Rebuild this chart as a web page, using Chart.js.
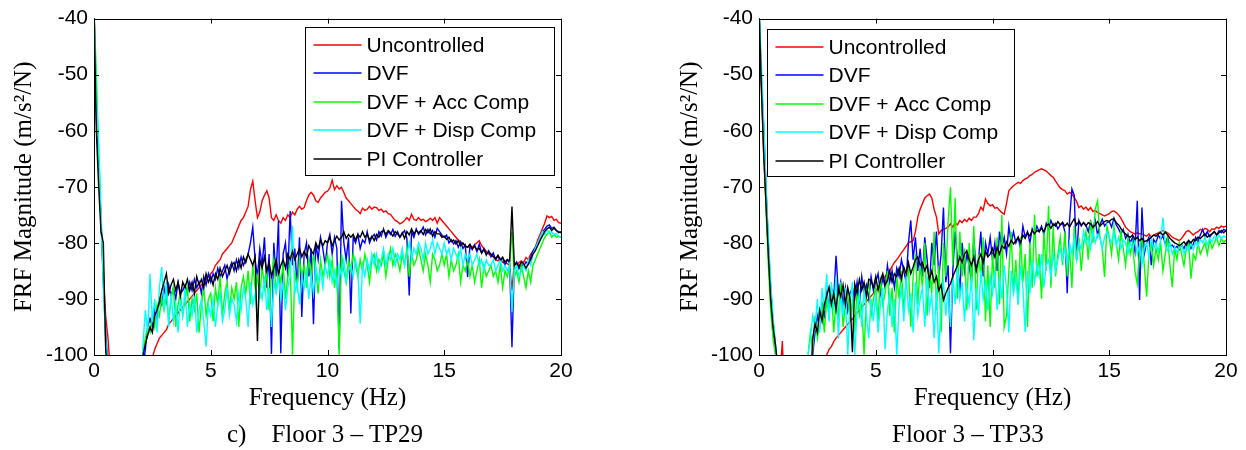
<!DOCTYPE html>
<html>
<head>
<meta charset="utf-8">
<script src="https://cdn.jsdelivr.net/npm/chart.js@4.4.1/dist/chart.umd.min.js"></script>
<style>
  body { margin: 0; background: #fff; }
  #wrap { position: relative; width: 1246px; height: 450px; overflow: hidden; }
  canvas { position: absolute; top: 0; }
  #cLeft { left: 0; }
  #cRight { left: 623px; }
  .caption { position: absolute; top: 421px; font: 25px/25px "Liberation Serif", "Times New Roman", serif; color: #000; white-space: pre; }
</style>
</head>
<body>
<div id="wrap">
  <canvas id="cLeft" width="623" height="450"></canvas>
  <canvas id="cRight" width="623" height="450"></canvas>
  <div class="caption" style="left:227px">c)    Floor 3 – TP29</div>
  <div class="caption" style="left:892px">Floor 3 – TP33</div>
</div>
<script>
// Frequency axis, 0 to 20 Hz every 0.1 Hz (values below -100 dB fall outside the axis)
const freq = Array.from({ length: 201 }, (_, i) => i / 10);

const seriesLabels = ['Uncontrolled', 'DVF', 'DVF + Acc Comp', 'DVF + Disp Comp', 'PI Controller'];
const seriesColors = ['#ff0000', '#0000ff', '#00ff00', '#00ffff', '#000000'];
const drawOrder = [5, 4, 3, 2, 1];   // black ends up on top
const xTicks = [0, 5, 10, 15, 20];
const yTicks = [-100, -90, -80, -70, -60, -50, -40];

// ---- Floor 3 - TP29 ----
const tp29Unc = [
  -38, -58, -66, -76, -86, -93, -97, -103, -110, -110,
  -110, -110, -110, -110, -110, -110, -110, -110, -110, -110,
  -110, -110, -110, -110, -106, -100.5, -99, -98, -97, -96.5,
  -96, -95.5, -94.5, -94, -93.5, -93, -92.5, -92, -91.5, -91,
  -90.5, -90, -89.5, -89, -88.5, -88, -87.5, -87, -86.5, -86,
  -85.5, -85, -84, -83.5, -83, -82, -81.5, -81, -80.5, -80,
  -79, -78, -77, -76, -75.5, -74.5, -73.5, -70.5, -69, -72.5,
  -75.5, -74.5, -72.5, -71.5, -70.7, -72, -75.5, -76, -75, -76,
  -76.5, -75.5, -76, -75, -75.5, -74.5, -75, -74, -73.5, -74,
  -73.7, -72.5, -71.5, -71, -71.5, -72.5, -72.8, -72, -71.5, -71,
  -70.8, -70.2, -68.8, -70.5, -69.8, -70.4, -70.1, -71, -72, -72.5,
  -73, -73.5, -74, -74.3, -74.8, -73.8, -74.2, -74, -73.5, -74,
  -73.6, -73.7, -74.2, -74, -74.5, -74.3, -74.8, -74.9, -75.5, -76,
  -76.2, -76.6, -76.4, -76, -75.5, -76, -74.9, -75.8, -76, -75.5,
  -76, -75.8, -76.2, -76, -75.6, -76, -75.5, -76.5, -75.5, -76,
  -76.5, -77, -77.5, -78, -78.5, -79, -79.5, -79.8, -80.2, -80.5,
  -80.8, -80.5, -80.8, -80.3, -80, -79.6, -80.5, -81, -81.5, -82,
  -82.3, -82.5, -83, -83.2, -82.8, -83.5, -83.6, -83.7, -84, -88.5,
  -83.5, -84, -83.5, -83.2, -83.5, -82.6, -83, -82, -81.5, -80.8,
  -79.5, -78.5, -77.5, -76.5, -75.2, -75.5, -75.3, -76, -75.8, -76.4,
  -76.5
];
const tp29Dvf = [
  -38, -56, -66, -76, -87, -96, -102, -110, -110, -110,
  -110, -110, -110, -110, -110, -110, -110, -110, -110, -110,
  -110, -102, -99, -95, -93.5, -95, -92, -94, -90, -91,
  -88, -90.5, -87.5, -89.5, -88, -90, -87, -89, -88.5, -87.5,
  -89, -87, -88.5, -86.5, -88, -87, -89, -86, -87.5, -85.5,
  -87, -85.5, -86.5, -84.5, -86, -85, -84, -86.5, -84.5, -83.5,
  -85, -83, -84.5, -82.5, -84, -83, -82, -80, -77.2, -83,
  -86, -81, -84, -79, -88, -82, -99.8, -80, -86, -76,
  -99.7, -82, -80, -86, -74.3, -84, -81, -88, -79, -93.2,
  -82, -80, -86, -81, -94.5, -80, -83, -79, -81, -84,
  -80, -78.5, -82, -79, -81, -99, -72.5, -80, -83, -79,
  -92.6, -79, -80, -78.5, -81, -79.5, -80, -78, -80, -79,
  -78.5, -79.5, -78, -78.8, -77.5, -79, -78, -78.5, -77.6, -78.8,
  -78, -79, -78.4, -77.8, -79.2, -89.4, -78, -79, -77.5, -78.5,
  -78, -77.2, -78.6, -77.6, -78.4, -77.8, -79, -77.4, -78, -78.6,
  -79, -78.6, -80, -79.4, -80.2, -79.6, -80.8, -79.8, -81, -80.4,
  -86.1, -80.6, -81.2, -80.4, -81.6, -80.2, -81.8, -81, -82.2, -81.4,
  -82.5, -81.8, -83, -82.4, -83.2, -82.6, -84, -83, -83.6, -98.6,
  -84, -83.4, -84.6, -83.8, -84.2, -83.4, -83.8, -82.6, -81.4, -80.8,
  -80, -79, -78, -77.6, -77, -76.8, -77.4, -77.2, -77.8, -78,
  -78.2
];
const tp29Acc = [
  -38, -50, -64, -76, -86, -98, -104, -110, -110, -110,
  -110, -110, -110, -110, -110, -110, -110, -110, -110, -110,
  -110, -99, -97, -95, -96, -93, -95, -91, -93, -90,
  -92, -89, -94, -90, -88, -95, -91, -89, -93, -90,
  -88, -94, -90, -92, -89, -96, -91, -88, -93, -90,
  -89, -94, -88, -91, -86, -93, -89, -87, -92, -88,
  -90, -87, -95, -88, -86, -89, -85, -91, -84, -88,
  -86, -90, -84, -88, -85, -92, -86, -83, -89, -85,
  -87, -84, -90, -86, -83, -100, -85, -88, -83, -86,
  -84, -88, -83, -86, -82, -85, -89, -83, -86, -84,
  -82, -86, -83, -88, -84, -100, -82, -85, -87, -83,
  -85, -82, -84, -86, -83, -85, -82, -84, -87, -83,
  -82, -85, -83, -84, -82, -86, -83, -81, -84, -82,
  -83, -85, -82, -84, -81, -86, -82, -84, -83, -81,
  -83, -85, -82, -84, -87, -82, -83, -85, -84, -82,
  -84, -82, -86, -83, -85, -84, -82, -87, -84, -85,
  -83, -86, -84, -87, -85, -83, -88, -84, -86, -85,
  -84, -86, -85, -87, -84, -88, -85, -86, -84, -78,
  -86, -85, -87, -84, -86, -88, -85, -87, -84, -83,
  -82, -81, -80, -79, -78.5, -78, -79, -78.5, -79, -78.8,
  -79
];
const tp29Disp = [
  -38, -54, -62, -74, -88, -97, -103, -110, -110, -110,
  -110, -110, -110, -110, -110, -110, -110, -110, -110, -110,
  -110, -98, -92, -96, -85.5, -94, -90, -96, -88, -84.3,
  -92, -87, -95, -89, -94, -91, -96, -90, -93, -88,
  -95, -91, -93, -89, -96, -92, -90, -94, -98.5, -91,
  -93, -90, -95, -91, -89, -94, -92, -88, -93, -90,
  -91, -94, -89, -92, -88, -90, -95, -87, -91, -89,
  -94, -88, -90, -86, -92, -88, -95, -87, -89, -86,
  -90, -87, -92, -88, -86, -77, -89, -87, -91, -86,
  -88, -85, -90, -86, -89, -84, -87, -85, -88, -84,
  -86, -83, -87, -85, -88, -84, -86, -83, -87, -85,
  -84, -86, -83, -85, -94.4, -84, -86, -83, -85, -82,
  -84, -82, -85, -83, -81, -84, -82, -83, -81, -84,
  -82, -83, -81, -84, -82, -80, -83, -81, -82, -80,
  -81, -83, -80, -82, -81, -79.5, -82, -80, -81, -82,
  -80, -82, -81, -83, -81, -82, -83, -81, -84, -82,
  -83, -82, -84, -83, -82, -84, -83, -85, -83, -84,
  -84, -83, -85, -84, -83, -85, -84, -85, -84, -92.3,
  -85, -84, -86, -85, -84, -85, -83, -84, -82, -81,
  -80, -79, -78, -78.5, -77.6, -78.2, -78, -78.6, -78.3, -78.8,
  -79
];
const tp29Pi = [
  -38, -60, -70, -78, -80, -99, -104, -110, -110, -110,
  -110, -110, -110, -110, -110, -110, -110, -110, -110, -110,
  -110, -100, -98, -96.5, -95, -96, -93, -92, -90.5, -88.5,
  -87, -85.5, -89, -87.5, -86.5, -88.5, -87, -89.5, -87, -88,
  -86.5, -88.5, -87, -89, -86, -87.5, -86.5, -88, -85.5, -87,
  -86, -87.5, -85.5, -86.5, -84.5, -86, -85, -84, -85.5, -84,
  -83.5, -85, -83, -84.5, -82.5, -83.5, -82, -83, -84, -82.5,
  -97.5, -83, -84.5, -82.5, -85, -83.5, -86, -84.5, -83, -85.5,
  -84, -83, -84.5, -82, -83, -81.5, -83, -82, -81, -82.5,
  -81.5, -82.5, -80.5, -81.4, -82, -80, -81, -79.5, -80.5, -79.6,
  -80, -79, -80.5, -79.6, -78.8, -79.5, -79, -78, -79.2, -78.5,
  -79, -78.5, -79.5, -78.5, -79, -78, -79, -78.5, -79.5, -78.8,
  -79.6, -78.5, -79, -78, -77.8, -78.5, -77.8, -78.2, -78.8, -78,
  -78.4, -79, -78.2, -79.2, -78, -78.6, -77.5, -78.4, -77.8, -78.2,
  -77.8, -78.5, -77.6, -78.2, -77.5, -78.8, -78, -78.4, -78.4, -79,
  -78.8, -79.4, -79, -79.8, -79.5, -80.2, -79.6, -80.5, -80, -80.6,
  -80.8, -80.2, -81, -80.6, -81.2, -81, -81.8, -81.2, -82, -81.6,
  -82, -82.4, -82.8, -82.2, -83, -82.6, -83.4, -83, -83.2, -73.5,
  -84, -83.6, -84.2, -83.4, -83.7, -84.5, -83.8, -83, -82, -81.4,
  -80.5, -79.6, -78.8, -78, -77.5, -77.2, -77.8, -77.4, -77.8, -78.2,
  -78
];

// ---- Floor 3 - TP33 ----
const tp33Unc = [
  -38, -52, -64, -73, -82, -90, -95, -99, -104, -104,
  -97.5, -110, -110, -110, -110, -110, -110, -110, -110, -110,
  -110, -110, -110, -110, -110, -110, -110, -106, -102, -100,
  -99, -98.5, -97.6, -97, -96.5, -96, -95.5, -95, -94.5, -94,
  -93.6, -93, -92.5, -92, -91.4, -91, -90.4, -90, -89.5, -89,
  -88.5, -88, -87.4, -86.8, -86, -85.4, -85, -84.2, -83.5, -83,
  -82.4, -81.8, -81.2, -80.6, -80, -79.8, -79.6, -78, -75.4, -74,
  -73, -72, -71.6, -71.3, -72, -74, -75.4, -78.4, -77.8, -77.6,
  -77.4, -77.2, -76.6, -77.2, -76.4, -76.8, -76, -76.4, -75.8, -76.2,
  -75.6, -76, -75.4, -75.4, -74.8, -73.6, -74.2, -72.2, -73, -73.4,
  -73.2, -73.8, -73.7, -74.2, -74.6, -74.9, -73, -70.7, -70.2, -69.8,
  -69.5, -69.2, -69.4, -68.9, -68.6, -68.4, -68, -67.8, -67.4, -67.2,
  -67, -66.8, -67, -67.2, -67.6, -68, -68.3, -69, -69.6, -70.2,
  -70.5, -70.7, -71.3, -71, -71.3, -71.9, -72.6, -73.7, -73.4, -74,
  -73.6, -74.2, -73.7, -74.4, -74.2, -74.6, -74.8, -75, -75.2, -75,
  -74.8, -74.4, -74.3, -74.6, -75, -75.6, -76.4, -77.2, -77.6, -78,
  -78.2, -78.4, -78.2, -78.4, -78.4, -78.6, -78.8, -78.4, -79, -78.6,
  -78.4, -78.2, -78, -77.8, -78, -78.2, -78.6, -79, -79.2, -79.4,
  -79.6, -79.2, -78.6, -78, -77.8, -78.2, -78.6, -78.2, -78, -77.6,
  -77.8, -77.4, -77.6, -78, -77.5, -77.6, -77.2, -77.4, -77, -77.2,
  -77
];
const tp33Dvf = [
  -38, -51, -59, -70, -80, -88, -94, -98, -104, -110,
  -110, -110, -110, -110, -110, -110, -110, -110, -110, -110,
  -110, -110, -104, -100, -96, -93, -95, -91, -93, -89,
  -91, -88, -90, -82.3, -89, -87, -91, -88, -92, -89,
  -88, -90, -87, -91, -86, -89, -87.5, -90, -86, -88.5,
  -87, -85.5, -89, -86, -88, -84, -87, -85, -88, -84.5,
  -86, -83, -85, -87, -80, -76, -83, -79, -85, -81,
  -86, -79, -83, -88, -80, -84, -78, -86, -82, -73.7,
  -87, -84, -99.7, -85, -78, -83, -89, -80, -85, -82,
  -84, -87, -79, -85, -83, -78, -86, -80, -82, -79,
  -83, -80, -85, -78, -81, -79, -82, -77, -80, -78,
  -80, -79, -81, -77, -79, -78, -80, -77.5, -78.5, -77,
  -78, -77, -78.5, -76.5, -77.5, -76, -77, -76.5, -77.5, -76.8,
  -76.5, -78, -89, -76, -70.4, -71.5, -83, -76, -77, -76.4,
  -76.8, -78, -76.2, -77.4, -76, -78.6, -76.8, -75.8, -77, -76.4,
  -76.2, -77.2, -75.6, -76.8, -77.5, -78.4, -77.6, -79.2, -78.4, -80,
  -79, -81.5, -72.5, -90.2, -73.7, -82, -80, -79, -84, -79.4,
  -80, -78.6, -79.4, -78.8, -80.2, -79, -80.6, -80.4, -81, -80.6,
  -81.2, -80.4, -81, -80, -79.6, -81, -80.2, -79, -79.8, -78.6,
  -77.6, -78.8, -78, -79, -78.4, -78, -78.6, -77.8, -78.2, -77.6,
  -77.8
];
const tp33Acc = [
  -38, -50, -62, -74, -84, -92, -97, -100, -106, -110,
  -110, -110, -110, -110, -110, -110, -110, -110, -110, -110,
  -110, -100, -96, -99, -93, -97, -94, -91, -96, -90,
  -93, -88, -96, -90, -93, -87, -95, -91, -89, -94,
  -90, -96, -88, -93, -91, -100, -89, -87, -93, -90,
  -88, -94, -86, -91, -89, -85, -93, -88, -96, -86,
  -90, -85, -92, -87, -84, -95, -86, -82, -91, -84,
  -88, -80, -93, -85, -89, -78, -92, -84, -96, -80,
  -86, -76, -70.1, -84, -72, -90, -78, -86, -81, -92,
  -80, -88, -77, -92, -82, -86, -79, -94, -84, -95,
  -82, -88, -79, -91, -75, -95, -93, -85, -78, -89,
  -83, -91, -79, -87, -82, -95, -80, -88, -75, -86,
  -82, -90, -78, -85, -73.4, -88, -77, -86, -82, -79,
  -84, -78, -86, -81, -88, -77, -83, -79, -85, -80,
  -78, -83, -76, -80, -74, -72.5, -79, -81, -86.1, -77,
  -79, -82, -77, -80, -83, -78, -81, -84, -79, -82,
  -80, -85, -87.3, -81, -79, -84, -89.6, -82, -80, -84,
  -81, -83, -80, -85, -82, -79, -84, -87.9, -81, -83,
  -80, -82, -84, -81, -80, -86.4, -82, -83, -80, -82,
  -81, -80, -82, -79.5, -81, -80, -79, -80.5, -79.2, -80,
  -79.5
];
const tp33Disp = [
  -38, -48, -58, -70, -79, -87, -93, -98, -104, -110,
  -110, -110, -110, -110, -110, -110, -110, -110, -110, -110,
  -110, -100, -97, -93, -95, -90, -96, -88, -92, -85.5,
  -94, -87, -92, -86, -97, -89, -93, -88, -100, -91,
  -87, -100, -92, -89, -95, -88, -93, -97, -90, -94,
  -89, -96, -91, -88, -99, -92, -89, -95, -90, -100,
  -91, -88, -94, -86, -92, -89, -96, -87, -93, -90,
  -88, -95, -86, -92, -89, -97, -88, -99.7, -90, -87,
  -93, -88, -95, -86, -91, -84, -90, -87, -94, -88,
  -91, -86, -97.4, -88, -93, -85, -90, -87, -92, -86,
  -89, -85, -92, -86, -90, -84, -88, -96, -85, -89,
  -86, -91, -84, -88, -95.9, -85, -89, -83, -87, -84,
  -86, -82, -88, -84, -83, -86, -82, -85, -83, -81,
  -83, -81, -84, -80, -82, -79, -83, -80, -81, -78,
  -80, -79, -81, -78, -80, -78.5, -79, -81, -79, -78,
  -79, -80, -78, -80.5, -79, -81, -79.5, -80, -82, -80,
  -81, -79.6, -82, -80.4, -84, -81, -80, -82.5, -79, -81,
  -80, -81.6, -79.4, -75.5, -80.6, -81.4, -80, -82, -80.8, -81.6,
  -81, -80.2, -82, -80.6, -81.4, -80, -81.2, -79.8, -80.6, -79.4,
  -80, -79, -80.4, -79.2, -79.8, -78.8, -79.4, -78.6, -79.2, -78.8,
  -79
];
const tp33Pi = [
  -38, -52, -64, -73, -82, -90, -95, -98, -102, -110,
  -110, -110, -110, -110, -110, -110, -110, -110, -110, -110,
  -110, -110, -106, -97, -94.4, -96, -92, -94, -91, -89.5,
  -87.9, -91, -89, -92, -88, -89.6, -87.5, -91, -88, -90,
  -99.5, -87.3, -89, -86.5, -88.5, -87, -89.5, -86.5, -86.7, -88,
  -86, -88.5, -86.7, -85.5, -87.5, -86.7, -85, -87, -85.5, -86,
  -84.5, -86.5, -84.3, -85.5, -83.5, -85.5, -84.3, -83, -82.5, -84,
  -83.5, -85, -84, -86.5, -85, -87, -86, -88.5, -87.5, -90.2,
  -89, -88, -87.3, -86, -85, -84, -82.5, -83.5, -82, -81.4,
  -83, -84, -82.5, -84.9, -83, -82, -83.5, -81.5, -82.5, -82,
  -81, -82.5, -80.8, -82, -80.5, -81, -79.8, -80.6, -79.5, -80.2,
  -79.6, -79, -80, -78.6, -79.2, -78.2, -78.8, -77.8, -78.4, -77.8,
  -78, -77.4, -78, -77, -76.6, -77.4, -76.6, -77, -76.2, -76.8,
  -76.3, -77, -76.5, -77.2, -76.4, -75.7, -76.8, -76.2, -76.8, -76.4,
  -77, -76.4, -76.6, -77.2, -76.8, -76.2, -77, -76.6, -76.2, -76,
  -76.2, -75.8, -75.7, -76.4, -76.8, -77.4, -78, -78.4, -78.8, -79,
  -78.6, -79.4, -79, -79.6, -79.2, -79.8, -79.6, -79.4, -79, -78.6,
  -78.8, -78.4, -78.2, -78.6, -78.1, -78.6, -79.2, -79.6, -80, -80.2,
  -80.5, -80.2, -79.8, -80.4, -79.6, -80, -79.4, -79.6, -79, -79.2,
  -78.8, -78.4, -79, -78.6, -78.4, -78, -78.6, -78.2, -77.8, -78.2,
  -77.8
];

const sansFont = '"Liberation Sans", Arial, sans-serif';
const serifFont = '"Liberation Serif", "Times New Roman", serif';

// Boxed axes with inward ticks on all four sides plus a boxed legend, MATLAB style
const matlabFrame = {
    id: 'matlabFrame',
    afterDatasetsDraw(chart, args, opts) {
        const { ctx, chartArea: a, scales: { x, y } } = chart;
        ctx.save();
        ctx.strokeStyle = '#000';
        ctx.lineWidth = 1;
        ctx.beginPath();
        x.ticks.forEach(t => {
            const px = Math.round(x.getPixelForValue(t.value)) + 0.5;
            ctx.moveTo(px, a.bottom); ctx.lineTo(px, a.bottom - opts.tick);
            ctx.moveTo(px, a.top); ctx.lineTo(px, a.top + opts.tick);
        });
        y.ticks.forEach(t => {
            const py = Math.round(y.getPixelForValue(t.value)) + 0.5;
            ctx.moveTo(a.left, py); ctx.lineTo(a.left + opts.tick, py);
            ctx.moveTo(a.right, py); ctx.lineTo(a.right - opts.tick, py);
        });
        ctx.stroke();
        ctx.strokeRect(Math.round(a.left) + 0.5, Math.round(a.top) + 0.5,
            Math.round(a.right - a.left), Math.round(a.bottom - a.top));

        // legend
        const lg = opts.legend;
        const lx = Math.round(a.left + lg.x) + 0.5;
        const ly = Math.round(a.top + lg.y) + 0.5;
        ctx.fillStyle = '#fff';
        ctx.fillRect(lx, ly, lg.w, lg.h);
        ctx.strokeStyle = '#000';
        ctx.strokeRect(lx, ly, lg.w, lg.h);
        ctx.font = '21px ' + sansFont;
        ctx.textBaseline = 'middle';
        ctx.textAlign = 'left';
        chart.data.datasets.forEach((ds, i) => {
            const ry = Math.round(ly + 17 + i * 28.5);
            ctx.strokeStyle = ds.borderColor;
            ctx.lineWidth = 1.5;
            ctx.beginPath();
            ctx.moveTo(lx + 8, ry);
            ctx.lineTo(lx + 56, ry);
            ctx.stroke();
            ctx.fillStyle = '#000';
            ctx.fillText(ds.label, lx + 61, ry + 1);
        });
        ctx.restore();
    }
};

function makeChart(canvasId, series, frame) {
    const ctx = document.getElementById(canvasId).getContext('2d');
    return new Chart(ctx, {
        type: 'line',
        data: {
            datasets: series.map((vals, i) => ({
                label: seriesLabels[i],
                data: freq.map((f, k) => ({ x: f, y: vals[k] })),
                borderColor: seriesColors[i],
                backgroundColor: seriesColors[i],
                borderWidth: 1.4,
                pointRadius: 0,
                tension: 0,
                order: drawOrder[i]
            }))
        },
        options: {
            responsive: false,
            animation: false,
            devicePixelRatio: 1,
            layout: { padding: { left: 0, top: 17, right: frame.padRight, bottom: 0 } },
            plugins: {
                legend: { display: false },
                tooltip: { enabled: false },
                matlabFrame: { tick: 5, legend: frame.legend }
            },
            scales: {
                x: {
                    type: 'linear',
                    min: 0,
                    max: 20,
                    afterBuildTicks: s => { s.ticks = xTicks.map(v => ({ value: v })); },
                    afterFit: s => { s.height = 95; },
                    grid: { display: false, drawTicks: false },
                    border: { display: false },
                    ticks: { color: '#000', padding: 4, font: { family: sansFont, size: 21 }, maxRotation: 0 },
                    title: {
                        display: true,
                        text: 'Frequency (Hz)',
                        color: '#000',
                        font: { family: serifFont, size: 25 },
                        padding: { top: 0, bottom: 37 }
                    }
                },
                y: {
                    type: 'linear',
                    min: -100,
                    max: -40,
                    afterBuildTicks: s => { s.ticks = yTicks.map(v => ({ value: v })); },
                    afterFit: s => { s.width = frame.yWidth; },
                    grid: { display: false, drawTicks: false },
                    border: { display: false },
                    ticks: { color: '#000', padding: 6, font: { family: sansFont, size: 21 } },
                    title: {
                        display: true,
                        text: 'FRF Magnitude (m/s²/N)',
                        color: '#000',
                        font: { family: serifFont, size: 25 },
                        padding: { top: frame.yTitlePad, bottom: 0 }
                    }
                }
            }
        },
        plugins: [matlabFrame]
    });
}

document.addEventListener('DOMContentLoaded', function () {
    makeChart('cLeft', [tp29Unc, tp29Dvf, tp29Acc, tp29Disp, tp29Pi], {
        yWidth: 94, padRight: 62, yTitlePad: 9,
        legend: { x: 211, y: 8, w: 249, h: 148 }
    });
    makeChart('cRight', [tp33Unc, tp33Dvf, tp33Acc, tp33Disp, tp33Pi], {
        yWidth: 136, padRight: 20, yTitlePad: 52,
        legend: { x: 8, y: 10, w: 247, h: 147 }
    });
});
</script>
</body>
</html>
